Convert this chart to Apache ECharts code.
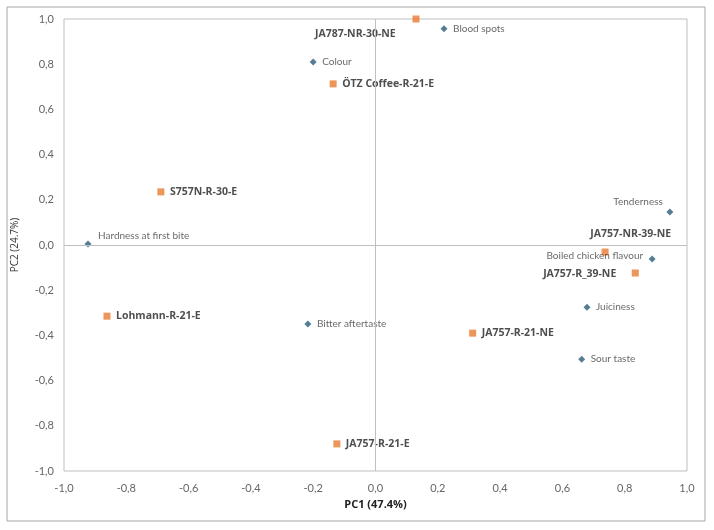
<!DOCTYPE html>
<html>
<head>
<meta charset="utf-8">
<script src="https://cdn.jsdelivr.net/npm/echarts@6/dist/echarts.min.js"></script>
<style>
  html, body { margin: 0; padding: 0; background: #fff; }
  #chart { width: 714px; height: 530px; }
</style>
</head>
<body>
<div id="chart"></div>
<script>
// sample (variety) scores
const varietyNames = ['JA787-NR-30-NE', 'ÖTZ Coffee-R-21-E', 'S757N-R-30-E', 'Lohmann-R-21-E', 'JA757-R-21-E', 'JA757-R-21-NE', 'JA757-R_39-NE', 'JA757-NR-39-NE']
const varietyX = [0.13, -0.136, -0.689, -0.862, -0.124, 0.312, 0.834, 0.737]
const varietyY = [1.0, 0.713, 0.235, -0.315, -0.88, -0.39, -0.124, -0.031]

// attribute loadings
const attributeNames = ['Blood spots', 'Colour', 'Tenderness', 'Hardness at first bite', 'Boiled chicken flavour', 'Juiciness', 'Bitter aftertaste', 'Sour taste']
const attributeX = [0.22, -0.2, 0.945, -0.923, 0.888, 0.679, -0.217, 0.662]
const attributeY = [0.957, 0.81, 0.146, 0.004, -0.062, -0.275, -0.35, -0.505]

const xTicks = [-1.0, -0.8, -0.6, -0.4, -0.2, 0.0, 0.2, 0.4, 0.6, 0.8, 1.0]
const yTicks = [-1.0, -0.8, -0.6, -0.4, -0.2, 0.0, 0.2, 0.4, 0.6, 0.8, 1.0]

// label placement: [dx, dy, align]
const labelPos = {
  'JA787-NR-30-NE': [-101, 15, 'left'],
  'JA757-R_39-NE': [-19, 1, 'right'],
  'JA757-NR-39-NE': [66, -18, 'right'],
  'Tenderness': [-7, -10, 'right'],
  'Hardness at first bite': [10, -8, 'left'],
  'Boiled chicken flavour': [-9, -3, 'right']
}

const fmt = v => v.toFixed(1).replace('.', ',')

const buildData = (names, xs, ys) => names.map((n, i) => {
  const p = labelPos[n] || [9, 0, 'left']
  return {
    name: n,
    value: [xs[i], ys[i]],
    label: { offset: [p[0], p[1]], align: p[2] }
  }
})

const chart = echarts.init(document.getElementById('chart'))
chart.setOption({
  animation: false,
  graphic: [{
    type: 'rect',
    shape: { x: 7, y: 7, width: 698, height: 514 },
    style: { fill: 'none', stroke: '#a6a6a6', lineWidth: 1 },
    silent: true
  }],
  grid: {
    left: 64, right: 27, top: 19, bottom: 59,
    show: true, borderColor: '#bfbfbf', borderWidth: 1
  },
  xAxis: {
    type: 'value', min: -1, max: 1, interval: 0.2,
    name: 'PC1 (47.4%)', nameLocation: 'middle', nameGap: 26,
    nameTextStyle: { fontFamily: 'Open Sans', fontWeight: 'bold', fontSize: 11, color: '#222' },
    axisLine: { show: false }, axisTick: { show: false }, splitLine: { show: false },
    axisLabel: { formatter: fmt, color: '#666', fontFamily: 'Lato', fontSize: 11, margin: 12 }
  },
  yAxis: {
    type: 'value', min: -1, max: 1, interval: 0.2,
    name: 'PC2 (24.7%)', nameLocation: 'middle', nameGap: 44, nameRotate: 90,
    nameTextStyle: { fontFamily: 'Open Sans', fontSize: 10, color: '#333' },
    axisLine: { show: false }, axisTick: { show: false }, splitLine: { show: false },
    axisLabel: { formatter: fmt, color: '#666', fontFamily: 'Lato', fontSize: 11, margin: 10 }
  },
  series: [
    {
      name: 'Varieties',
      type: 'scatter',
      symbol: 'rect',
      symbolSize: 7,
      clip: false,
      itemStyle: { color: '#E97A32' },
      label: {
        show: true, position: 'inside', formatter: '{b}', verticalAlign: 'middle',
        fontFamily: 'Open Sans', fontWeight: 'bold', fontSize: 10.5, color: '#222'
      },
      data: buildData(varietyNames, varietyX, varietyY),
      markLine: {
        silent: true, symbol: 'none', label: { show: false },
        lineStyle: { color: '#bfbfbf', type: 'solid', width: 1 },
        data: [{ xAxis: 0 }, { yAxis: 0 }]
      }
    },
    {
      name: 'Attributes',
      type: 'scatter',
      symbol: 'diamond',
      symbolSize: 7,
      clip: false,
      itemStyle: { color: '#2D5C7A' },
      label: {
        show: true, position: 'inside', formatter: '{b}', verticalAlign: 'middle',
        fontFamily: 'Lato', fontSize: 10, color: '#444'
      },
      data: buildData(attributeNames, attributeX, attributeY)
    }
  ]
})
</script>
</body>
</html>
